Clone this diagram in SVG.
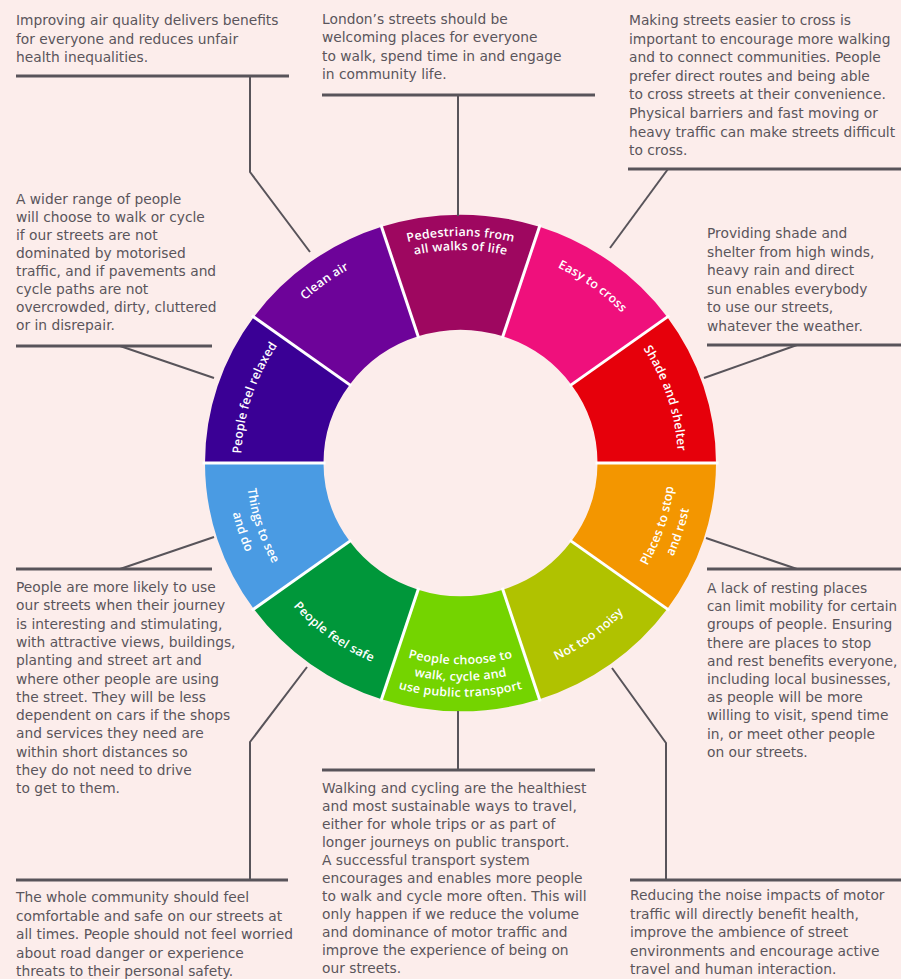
<svg xmlns="http://www.w3.org/2000/svg" xmlns:xlink="http://www.w3.org/1999/xlink" width="901" height="979" viewBox="0 0 901 979">
<style>
.bg{fill:#fcedeb}
.desc{font-family:"DejaVu Sans","Liberation Sans",sans-serif;font-size:13.8px;fill:#5a555b}
.rule{stroke:#58545a;stroke-width:3;fill:none}
.conn{stroke:#58545a;stroke-width:2;fill:none}
.sep{stroke:#ffffff;stroke-width:3}
.lbl{font-family:"Open Sans","DejaVu Sans",sans-serif;font-size:12.5px;font-weight:600;letter-spacing:0.2px;fill:#ffffff}
</style>
<defs>
<path id="p-clean" d="M -225.69 -35.75 A 228.5 228.5 0 0 1 35.75 -225.69"/>
<path id="p-ped1" d="M -165.11 -165.11 A 233.5 233.5 0 0 1 165.11 -165.11"/>
<path id="p-ped2" d="M -154.86 -154.86 A 219 219 0 0 1 154.86 -154.86"/>
<path id="p-easy" d="M -34.96 -220.75 A 223.5 223.5 0 0 1 220.75 -34.96"/>
<path id="p-shade" d="M 98.74 -193.79 A 217.5 217.5 0 0 1 193.79 98.74"/>
<path id="p-places1" d="M 97.38 191.12 A 214.5 214.5 0 0 0 191.12 -97.38"/>
<path id="p-places2" d="M 106.01 208.05 A 233.5 233.5 0 0 0 208.05 -106.01"/>
<path id="p-noisy" d="M -35.12 221.74 A 224.5 224.5 0 0 0 221.74 35.12"/>
<path id="p-choose1" d="M -146.37 146.37 A 207 207 0 0 0 146.37 146.37"/>
<path id="p-choose2" d="M -158.39 158.39 A 224 224 0 0 0 158.39 158.39"/>
<path id="p-choose3" d="M -170.06 170.06 A 240.5 240.5 0 0 0 170.06 170.06"/>
<path id="p-safe" d="M -220.25 34.88 A 223 223 0 0 0 34.88 220.25"/>
<path id="p-things1" d="M -191.12 -97.38 A 214.5 214.5 0 0 0 -97.38 191.12"/>
<path id="p-things2" d="M -208.05 -106.01 A 233.5 233.5 0 0 0 -106.01 208.05"/>
<path id="p-relaxed" d="M -195.58 99.65 A 219.5 219.5 0 0 1 -99.65 -195.58"/>
</defs>
<rect class="bg" x="0" y="0" width="901" height="979"/>

<g id="ring" transform="translate(460.5,463) scale(1,0.972)">
  <g id="seg-pedestrians">
    <path fill="#9e0760" d="M -78.95 -243.00 A 255.5 255.5 0 0 1 78.95 -243.00 L 42.34 -130.29 A 137 137 0 0 0 -42.34 -130.29 Z"/>
    <text class="lbl" text-anchor="middle"><textPath xlink:href="#p-ped1" href="#p-ped1" startOffset="50%">Pedestrians from</textPath><textPath xlink:href="#p-ped2" href="#p-ped2" startOffset="50%">all walks of life</textPath></text>
  </g>
  <g id="seg-easy">
    <path fill="#ef107c" d="M 78.95 -243.00 A 255.5 255.5 0 0 1 206.70 -150.18 L 110.83 -80.53 A 137 137 0 0 0 42.34 -130.29 Z"/>
    <text class="lbl" text-anchor="middle"><textPath xlink:href="#p-easy" href="#p-easy" startOffset="50%">Easy to cross</textPath></text>
  </g>
  <g id="seg-shade">
    <path fill="#e6000b" d="M 206.70 -150.18 A 255.5 255.5 0 0 1 255.5 0 L 137 0 A 137 137 0 0 0 110.83 -80.53 Z"/>
    <text class="lbl" text-anchor="middle"><textPath xlink:href="#p-shade" href="#p-shade" startOffset="50%">Shade and shelter</textPath></text>
  </g>
  <g id="seg-places">
    <path fill="#f39600" d="M 255.5 0 A 255.5 255.5 0 0 1 206.70 150.18 L 110.83 80.53 A 137 137 0 0 0 137 0 Z"/>
    <text class="lbl" text-anchor="middle"><textPath xlink:href="#p-places1" href="#p-places1" startOffset="50%">Places to stop</textPath><textPath xlink:href="#p-places2" href="#p-places2" startOffset="50%">and rest</textPath></text>
  </g>
  <g id="seg-noisy">
    <path fill="#b0c200" d="M 206.70 150.18 A 255.5 255.5 0 0 1 78.95 243.00 L 42.34 130.29 A 137 137 0 0 0 110.83 80.53 Z"/>
    <text class="lbl" text-anchor="middle"><textPath xlink:href="#p-noisy" href="#p-noisy" startOffset="50%">Not too noisy</textPath></text>
  </g>
  <g id="seg-choose">
    <path fill="#74d400" d="M 78.95 243.00 A 255.5 255.5 0 0 1 -78.95 243.00 L -42.34 130.29 A 137 137 0 0 0 42.34 130.29 Z"/>
    <text class="lbl" text-anchor="middle"><textPath xlink:href="#p-choose1" href="#p-choose1" startOffset="50%">People choose to</textPath><textPath xlink:href="#p-choose2" href="#p-choose2" startOffset="50%">walk, cycle and</textPath><textPath xlink:href="#p-choose3" href="#p-choose3" startOffset="50%">use public transport</textPath></text>
  </g>
  <g id="seg-safe">
    <path fill="#00973a" d="M -78.95 243.00 A 255.5 255.5 0 0 1 -206.70 150.18 L -110.83 80.53 A 137 137 0 0 0 -42.34 130.29 Z"/>
    <text class="lbl" text-anchor="middle"><textPath xlink:href="#p-safe" href="#p-safe" startOffset="50%">People feel safe</textPath></text>
  </g>
  <g id="seg-things">
    <path fill="#4a9be3" d="M -206.70 150.18 A 255.5 255.5 0 0 1 -255.5 0 L -137 0 A 137 137 0 0 0 -110.83 80.53 Z"/>
    <text class="lbl" text-anchor="middle"><textPath xlink:href="#p-things1" href="#p-things1" startOffset="50%">Things to see</textPath><textPath xlink:href="#p-things2" href="#p-things2" startOffset="50%">and do</textPath></text>
  </g>
  <g id="seg-relaxed">
    <path fill="#3a0095" d="M -255.5 0 A 255.5 255.5 0 0 1 -206.70 -150.18 L -110.83 -80.53 A 137 137 0 0 0 -137 0 Z"/>
    <text class="lbl" text-anchor="middle"><textPath xlink:href="#p-relaxed" href="#p-relaxed" startOffset="50%">People feel relaxed</textPath></text>
  </g>
  <g id="seg-clean">
    <path fill="#6d0399" d="M -206.70 -150.18 A 255.5 255.5 0 0 1 -78.95 -243.00 L -42.34 -130.29 A 137 137 0 0 0 -110.83 -80.53 Z"/>
    <text class="lbl" text-anchor="middle"><textPath xlink:href="#p-clean" href="#p-clean" startOffset="50%">Clean air</textPath></text>
  </g>
  <g id="separators">
    <line class="sep" x1="135" y1="0" x2="258" y2="0"/>
    <line class="sep" x1="109.22" y1="79.35" x2="208.73" y2="151.65"/>
    <line class="sep" x1="41.72" y1="128.39" x2="79.73" y2="245.37"/>
    <line class="sep" x1="-41.72" y1="128.39" x2="-79.73" y2="245.37"/>
    <line class="sep" x1="-109.22" y1="79.35" x2="-208.73" y2="151.65"/>
    <line class="sep" x1="-135" y1="0" x2="-258" y2="0"/>
    <line class="sep" x1="-109.22" y1="-79.35" x2="-208.73" y2="-151.65"/>
    <line class="sep" x1="-41.72" y1="-128.39" x2="-79.73" y2="-245.37"/>
    <line class="sep" x1="41.72" y1="-128.39" x2="79.73" y2="-245.37"/>
    <line class="sep" x1="109.22" y1="-79.35" x2="208.73" y2="-151.65"/>
  </g>
</g>

<g id="connectors">
  <polyline class="conn" points="250,76 250,172 310,252"/>
  <line class="conn" x1="458" y1="95" x2="458" y2="216"/>
  <line class="conn" x1="668" y1="169" x2="610" y2="248"/>
  <line class="conn" x1="120" y1="346" x2="214" y2="378"/>
  <line class="conn" x1="797" y1="345" x2="704" y2="378"/>
  <line class="conn" x1="120" y1="569" x2="214" y2="537"/>
  <line class="conn" x1="797" y1="569" x2="706" y2="538"/>
  <polyline class="conn" points="250,880 250,742 307,667"/>
  <line class="conn" x1="458" y1="770" x2="458" y2="711"/>
  <polyline class="conn" points="666,880 666,743 612,668"/>
</g>

<g id="note-clean-air">
  <text class="desc">
    <tspan x="16" y="25">Improving air quality delivers benefits</tspan>
    <tspan x="16" y="43.5">for everyone and reduces unfair</tspan>
    <tspan x="16" y="62">health inequalities.</tspan>
  </text>
  <line class="rule" x1="16" y1="76" x2="289" y2="76"/>
</g>

<g id="note-pedestrians">
  <text class="desc">
    <tspan x="322" y="24">London’s streets should be</tspan>
    <tspan x="322" y="42.3">welcoming places for everyone</tspan>
    <tspan x="322" y="60.6">to walk, spend time in and engage</tspan>
    <tspan x="322" y="78.9">in community life.</tspan>
  </text>
  <line class="rule" x1="322" y1="95" x2="595" y2="95"/>
</g>

<g id="note-easy">
  <text class="desc">
    <tspan x="629" y="25">Making streets easier to cross is</tspan>
    <tspan x="629" y="43.6">important to encourage more walking</tspan>
    <tspan x="629" y="62.2">and to connect communities. People</tspan>
    <tspan x="629" y="80.8">prefer direct routes and being able</tspan>
    <tspan x="629" y="99.4">to cross streets at their convenience.</tspan>
    <tspan x="629" y="118">Physical barriers and fast moving or</tspan>
    <tspan x="629" y="136.6">heavy traffic can make streets difficult</tspan>
    <tspan x="629" y="155.2">to cross.</tspan>
  </text>
  <line class="rule" x1="628" y1="169" x2="901" y2="169"/>
</g>

<g id="note-relaxed">
  <text class="desc">
    <tspan x="16" y="204">A wider range of people</tspan>
    <tspan x="16" y="222">will choose to walk or cycle</tspan>
    <tspan x="16" y="240">if our streets are not</tspan>
    <tspan x="16" y="258">dominated by motorised</tspan>
    <tspan x="16" y="276">traffic, and if pavements and</tspan>
    <tspan x="16" y="294">cycle paths are not</tspan>
    <tspan x="16" y="312">overcrowded, dirty, cluttered</tspan>
    <tspan x="16" y="330">or in disrepair.</tspan>
  </text>
  <line class="rule" x1="16" y1="346" x2="212" y2="346"/>
</g>

<g id="note-shade">
  <text class="desc">
    <tspan x="707" y="238">Providing shade and</tspan>
    <tspan x="707" y="256.6">shelter from high winds,</tspan>
    <tspan x="707" y="275.2">heavy rain and direct</tspan>
    <tspan x="707" y="293.8">sun enables everybody</tspan>
    <tspan x="707" y="312.4">to use our streets,</tspan>
    <tspan x="707" y="331">whatever the weather.</tspan>
  </text>
  <line class="rule" x1="707" y1="345" x2="901" y2="345"/>
</g>

<g id="note-things">
  <line class="rule" x1="16" y1="569" x2="212" y2="569"/>
  <text class="desc">
    <tspan x="16" y="592">People are more likely to use</tspan>
    <tspan x="16" y="610.3">our streets when their journey</tspan>
    <tspan x="16" y="628.6">is interesting and stimulating,</tspan>
    <tspan x="16" y="646.9">with attractive views, buildings,</tspan>
    <tspan x="16" y="665.2">planting and street art and</tspan>
    <tspan x="16" y="683.5">where other people are using</tspan>
    <tspan x="16" y="701.8">the street. They will be less</tspan>
    <tspan x="16" y="720.1">dependent on cars if the shops</tspan>
    <tspan x="16" y="738.4">and services they need are</tspan>
    <tspan x="16" y="756.7">within short distances so</tspan>
    <tspan x="16" y="775">they do not need to drive</tspan>
    <tspan x="16" y="793.3">to get to them.</tspan>
  </text>
</g>

<g id="note-places">
  <line class="rule" x1="707" y1="569" x2="901" y2="569"/>
  <text class="desc">
    <tspan x="707" y="593">A lack of resting places</tspan>
    <tspan x="707" y="611.2" textLength="190" lengthAdjust="spacingAndGlyphs">can limit mobility for certain</tspan>
    <tspan x="707" y="629.4">groups of people. Ensuring</tspan>
    <tspan x="707" y="647.6">there are places to stop</tspan>
    <tspan x="707" y="665.8">and rest benefits everyone,</tspan>
    <tspan x="707" y="684">including local businesses,</tspan>
    <tspan x="707" y="702.2">as people will be more</tspan>
    <tspan x="707" y="720.4">willing to visit, spend time</tspan>
    <tspan x="707" y="738.6">in, or meet other people</tspan>
    <tspan x="707" y="756.8">on our streets.</tspan>
  </text>
</g>

<g id="note-safe">
  <line class="rule" x1="16" y1="880" x2="288" y2="880"/>
  <text class="desc">
    <tspan x="16" y="902">The whole community should feel</tspan>
    <tspan x="16" y="920.6">comfortable and safe on our streets at</tspan>
    <tspan x="16" y="939.2">all times. People should not feel worried</tspan>
    <tspan x="16" y="957.8">about road danger or experience</tspan>
    <tspan x="16" y="976.4">threats to their personal safety.</tspan>
  </text>
</g>

<g id="note-choose">
  <line class="rule" x1="322" y1="770" x2="595" y2="770"/>
  <text class="desc">
    <tspan x="322" y="793">Walking and cycling are the healthiest</tspan>
    <tspan x="322" y="811">and most sustainable ways to travel,</tspan>
    <tspan x="322" y="829">either for whole trips or as part of</tspan>
    <tspan x="322" y="847">longer journeys on public transport.</tspan>
    <tspan x="322" y="865">A successful transport system</tspan>
    <tspan x="322" y="883">encourages and enables more people</tspan>
    <tspan x="322" y="901">to walk and cycle more often. This will</tspan>
    <tspan x="322" y="919">only happen if we reduce the volume</tspan>
    <tspan x="322" y="937">and dominance of motor traffic and</tspan>
    <tspan x="322" y="955">improve the experience of being on</tspan>
    <tspan x="322" y="973">our streets.</tspan>
  </text>
</g>

<g id="note-noisy">
  <line class="rule" x1="630" y1="880" x2="901" y2="880"/>
  <text class="desc">
    <tspan x="630" y="900">Reducing the noise impacts of motor</tspan>
    <tspan x="630" y="918.5">traffic will directly benefit health,</tspan>
    <tspan x="630" y="937">improve the ambience of street</tspan>
    <tspan x="630" y="955.5">environments and encourage active</tspan>
    <tspan x="630" y="974">travel and human interaction.</tspan>
  </text>
</g>
</svg>
